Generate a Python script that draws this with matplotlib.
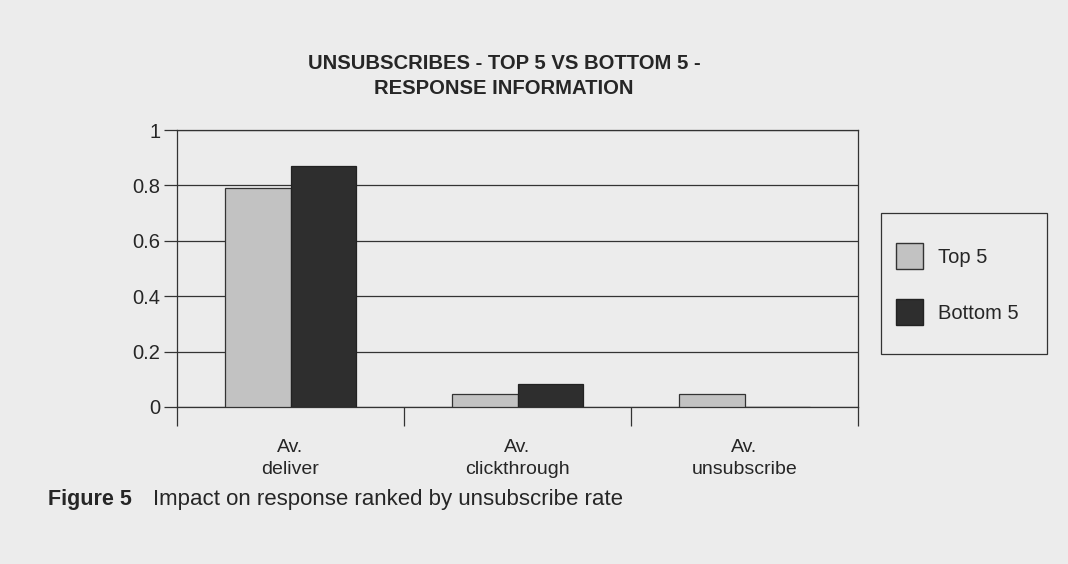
import matplotlib
matplotlib.use("Agg")
import matplotlib.pyplot as plt
import numpy as np
from matplotlib.patches import Patch, Rectangle

plt.rcParams['font.family'] = ['Liberation Sans', 'DejaVu Sans']

categories = ["Av.\ndeliver", "Av.\nclickthrough", "Av.\nunsubscribe"]
series_names = ["Top 5", "Bottom 5"]
top5 = [0.79, 0.046, 0.048]
bottom5 = [0.87, 0.083, 0.0]
yticks = [0, 0.2, 0.4, 0.6, 0.8, 1]
ytick_labels = ["0", "0.2", "0.4", "0.6", "0.8", "1"]

W, H = 1068, 564
bg = "#ececec"
c_top = "#c2c2c2"
c_bot = "#2e2e2e"
ink = "#262626"

fig = plt.figure(figsize=(W/100, H/100), dpi=100, facecolor=bg)
ax = fig.add_axes([177/W, 1-407/H, (858-177)/W, (407-130)/H])
ax.set_facecolor(bg)

x = np.arange(len(categories))
w = 0.287
ax.bar(x - w/2, top5, w, color=c_top, edgecolor="#333333", linewidth=0.9, zorder=3)
ax.bar(x + w/2, bottom5, w, color=c_bot, edgecolor="#222222", linewidth=0.9, zorder=3)

ax.set_xlim(-0.5, 2.5)
ax.set_ylim(0, 1)
ax.set_yticks(yticks)
ax.set_yticklabels(ytick_labels, fontsize=14.5, color=ink)
ax.yaxis.grid(True, color="#333333", linewidth=0.9, zorder=0)
ax.tick_params(axis='y', direction='out', length=9.4, width=0.9, color="#333333", pad=2.5)

ax.set_xticks([-0.5, 0.5, 1.5, 2.5])
ax.set_xticklabels([])
ax.tick_params(axis='x', direction='out', length=13.7, width=0.9, color="#333333")
for xi, lab in zip(x, categories):
    ax.text(xi, -0.115, lab, ha='center', va='top', fontsize=14, color=ink,
            linespacing=1.4, transform=ax.transData)

for s in ax.spines.values():
    s.set_color("#333333")
    s.set_linewidth(0.9)

fig.text(504/W, 1-76/H, "UNSUBSCRIBES - TOP 5 VS BOTTOM 5 -\nRESPONSE INFORMATION",
         ha='center', va='center', fontsize=14.6, fontweight='bold', color=ink,
         linespacing=1.35)

# legend frame
fig.add_artist(Rectangle((881/W, 1-354/H), (1047-881)/W, (354-213)/H,
                         transform=fig.transFigure, facecolor=bg, edgecolor="#333333",
                         linewidth=0.9, zorder=1))
handles = [Patch(facecolor=c_top, edgecolor="#333333"), Patch(facecolor=c_bot, edgecolor="#222222")]
leg = fig.legend(handles, series_names, loc='upper left', bbox_to_anchor=(896/W, 1-243/H),
                 fontsize=14.5, frameon=False, borderpad=0, borderaxespad=0,
                 labelspacing=1.5, handlelength=1.35, handleheight=1.6, handletextpad=0.75)
leg.set_zorder(2)
for t in leg.get_texts():
    t.set_color(ink)

fig.text(48/W, 1-500/H, "Figure 5", ha='left', va='center', fontsize=15.5,
         fontweight='bold', color=ink)
fig.text(153/W, 1-500/H, "Impact on response ranked by unsubscribe rate", ha='left',
         va='center', fontsize=16, color=ink)

fig.savefig("out.png", dpi=100, facecolor=bg)
